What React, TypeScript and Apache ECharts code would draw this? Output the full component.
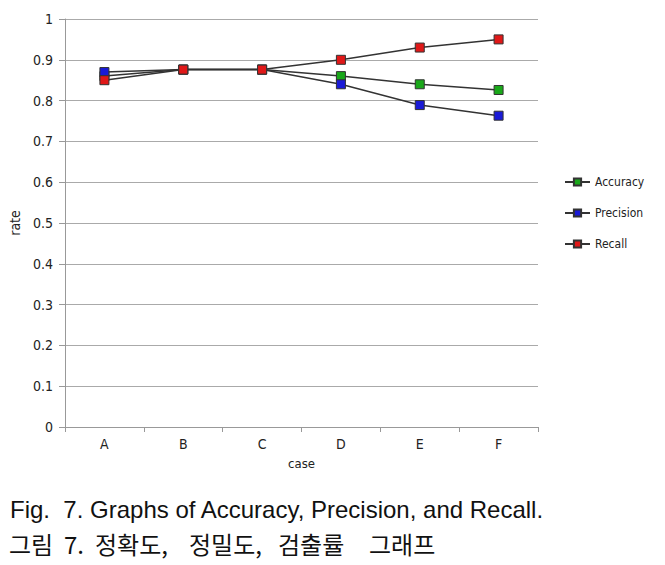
import React, { useEffect, useRef } from "react";
import * as echarts from "echarts";

const categories = ["A", "B", "C", "D", "E", "F"];
const accuracy = [0.86, 0.876, 0.876, 0.86, 0.84, 0.826];
const precision = [0.87, 0.876, 0.876, 0.84, 0.789, 0.763];
const recall = [0.85, 0.876, 0.876, 0.9, 0.93, 0.95];
const seriesNames = ["Accuracy", "Precision", "Recall"];
const seriesColors = ["#1aa81a", "#1a1ad6", "#e01818"];
const captionEn = "Fig.  7. Graphs of Accuracy, Precision, and Recall.";
const captionKoWords = ["그림", "7.", "정확도,", "정밀도,", "검출률", "그래프"];
const captionKoX = [9, 64, 95, 189, 278, 369];

export default function App() {
  const ref = useRef<HTMLDivElement>(null);
  useEffect(() => {
    if (!ref.current) return;
    const chart = echarts.init(ref.current, null, { renderer: "svg" });
    const data = [accuracy, precision, recall];
    const font = "'DejaVu Sans Condensed', 'Liberation Sans Narrow', sans-serif";
    chart.setOption({
      animation: false,
      backgroundColor: "#ffffff",
      grid: { left: 65, right: 127, top: 19, bottom: 138, containLabel: false },
      legend: {
        orient: "vertical",
        left: 564,
        top: 176,
        padding: 0,
        itemGap: 19,
        itemWidth: 25,
        itemHeight: 9,
        textStyle: { color: "#222", fontSize: 12, fontFamily: font },
        data: seriesNames,
      },
      xAxis: {
        type: "category",
        data: categories,
        boundaryGap: true,
        name: "case",
        nameLocation: "middle",
        nameGap: 30,
        nameTextStyle: { color: "#222", fontSize: 13, fontFamily: font },
        axisLine: { lineStyle: { color: "#999", width: 1 } },
        axisTick: { show: true, length: 5, lineStyle: { color: "#999" } },
        axisLabel: { color: "#222", fontSize: 14, margin: 10, fontFamily: font },
        splitLine: { show: false },
      },
      yAxis: {
        type: "value",
        min: 0,
        max: 1,
        interval: 0.1,
        name: "rate",
        nameLocation: "middle",
        nameGap: 40,
        nameTextStyle: { color: "#222", fontSize: 14, fontFamily: font },
        axisLine: { show: true, lineStyle: { color: "#999", width: 1 } },
        axisTick: { show: true, length: 6, lineStyle: { color: "#999" } },
        axisLabel: { color: "#222", fontSize: 14, margin: 12, fontFamily: font },
        splitLine: { show: true, lineStyle: { color: "#aaa", width: 1 } },
      },
      series: seriesNames.map((name, i) => ({
        name,
        type: "line",
        data: data[i],
        symbol: "rect",
        symbolSize: 9,
        itemStyle: { color: seriesColors[i], borderColor: "#333", borderWidth: 1 },
        lineStyle: { color: "#333", width: 1.5 },
        emphasis: { disabled: true },
      })),
      graphic: [
        {
          type: "text",
          left: 10,
          top: 497,
          style: { text: captionEn, fill: "#111", fontSize: 24, fontFamily: "'Liberation Sans', Arial, sans-serif" },
        },
        ...captionKoWords.map((w, i) => ({
          type: "text",
          left: captionKoX[i],
          top: 531,
          style: { text: w, fill: "#111", fontSize: 24, fontFamily: "'Noto Sans CJK KR', sans-serif" },
        })),
      ],
    });
    return () => chart.dispose();
  }, []);
  return <div ref={ref} style={{ position: "fixed", left: 0, top: 0, width: 665, height: 565 }} />;
}
